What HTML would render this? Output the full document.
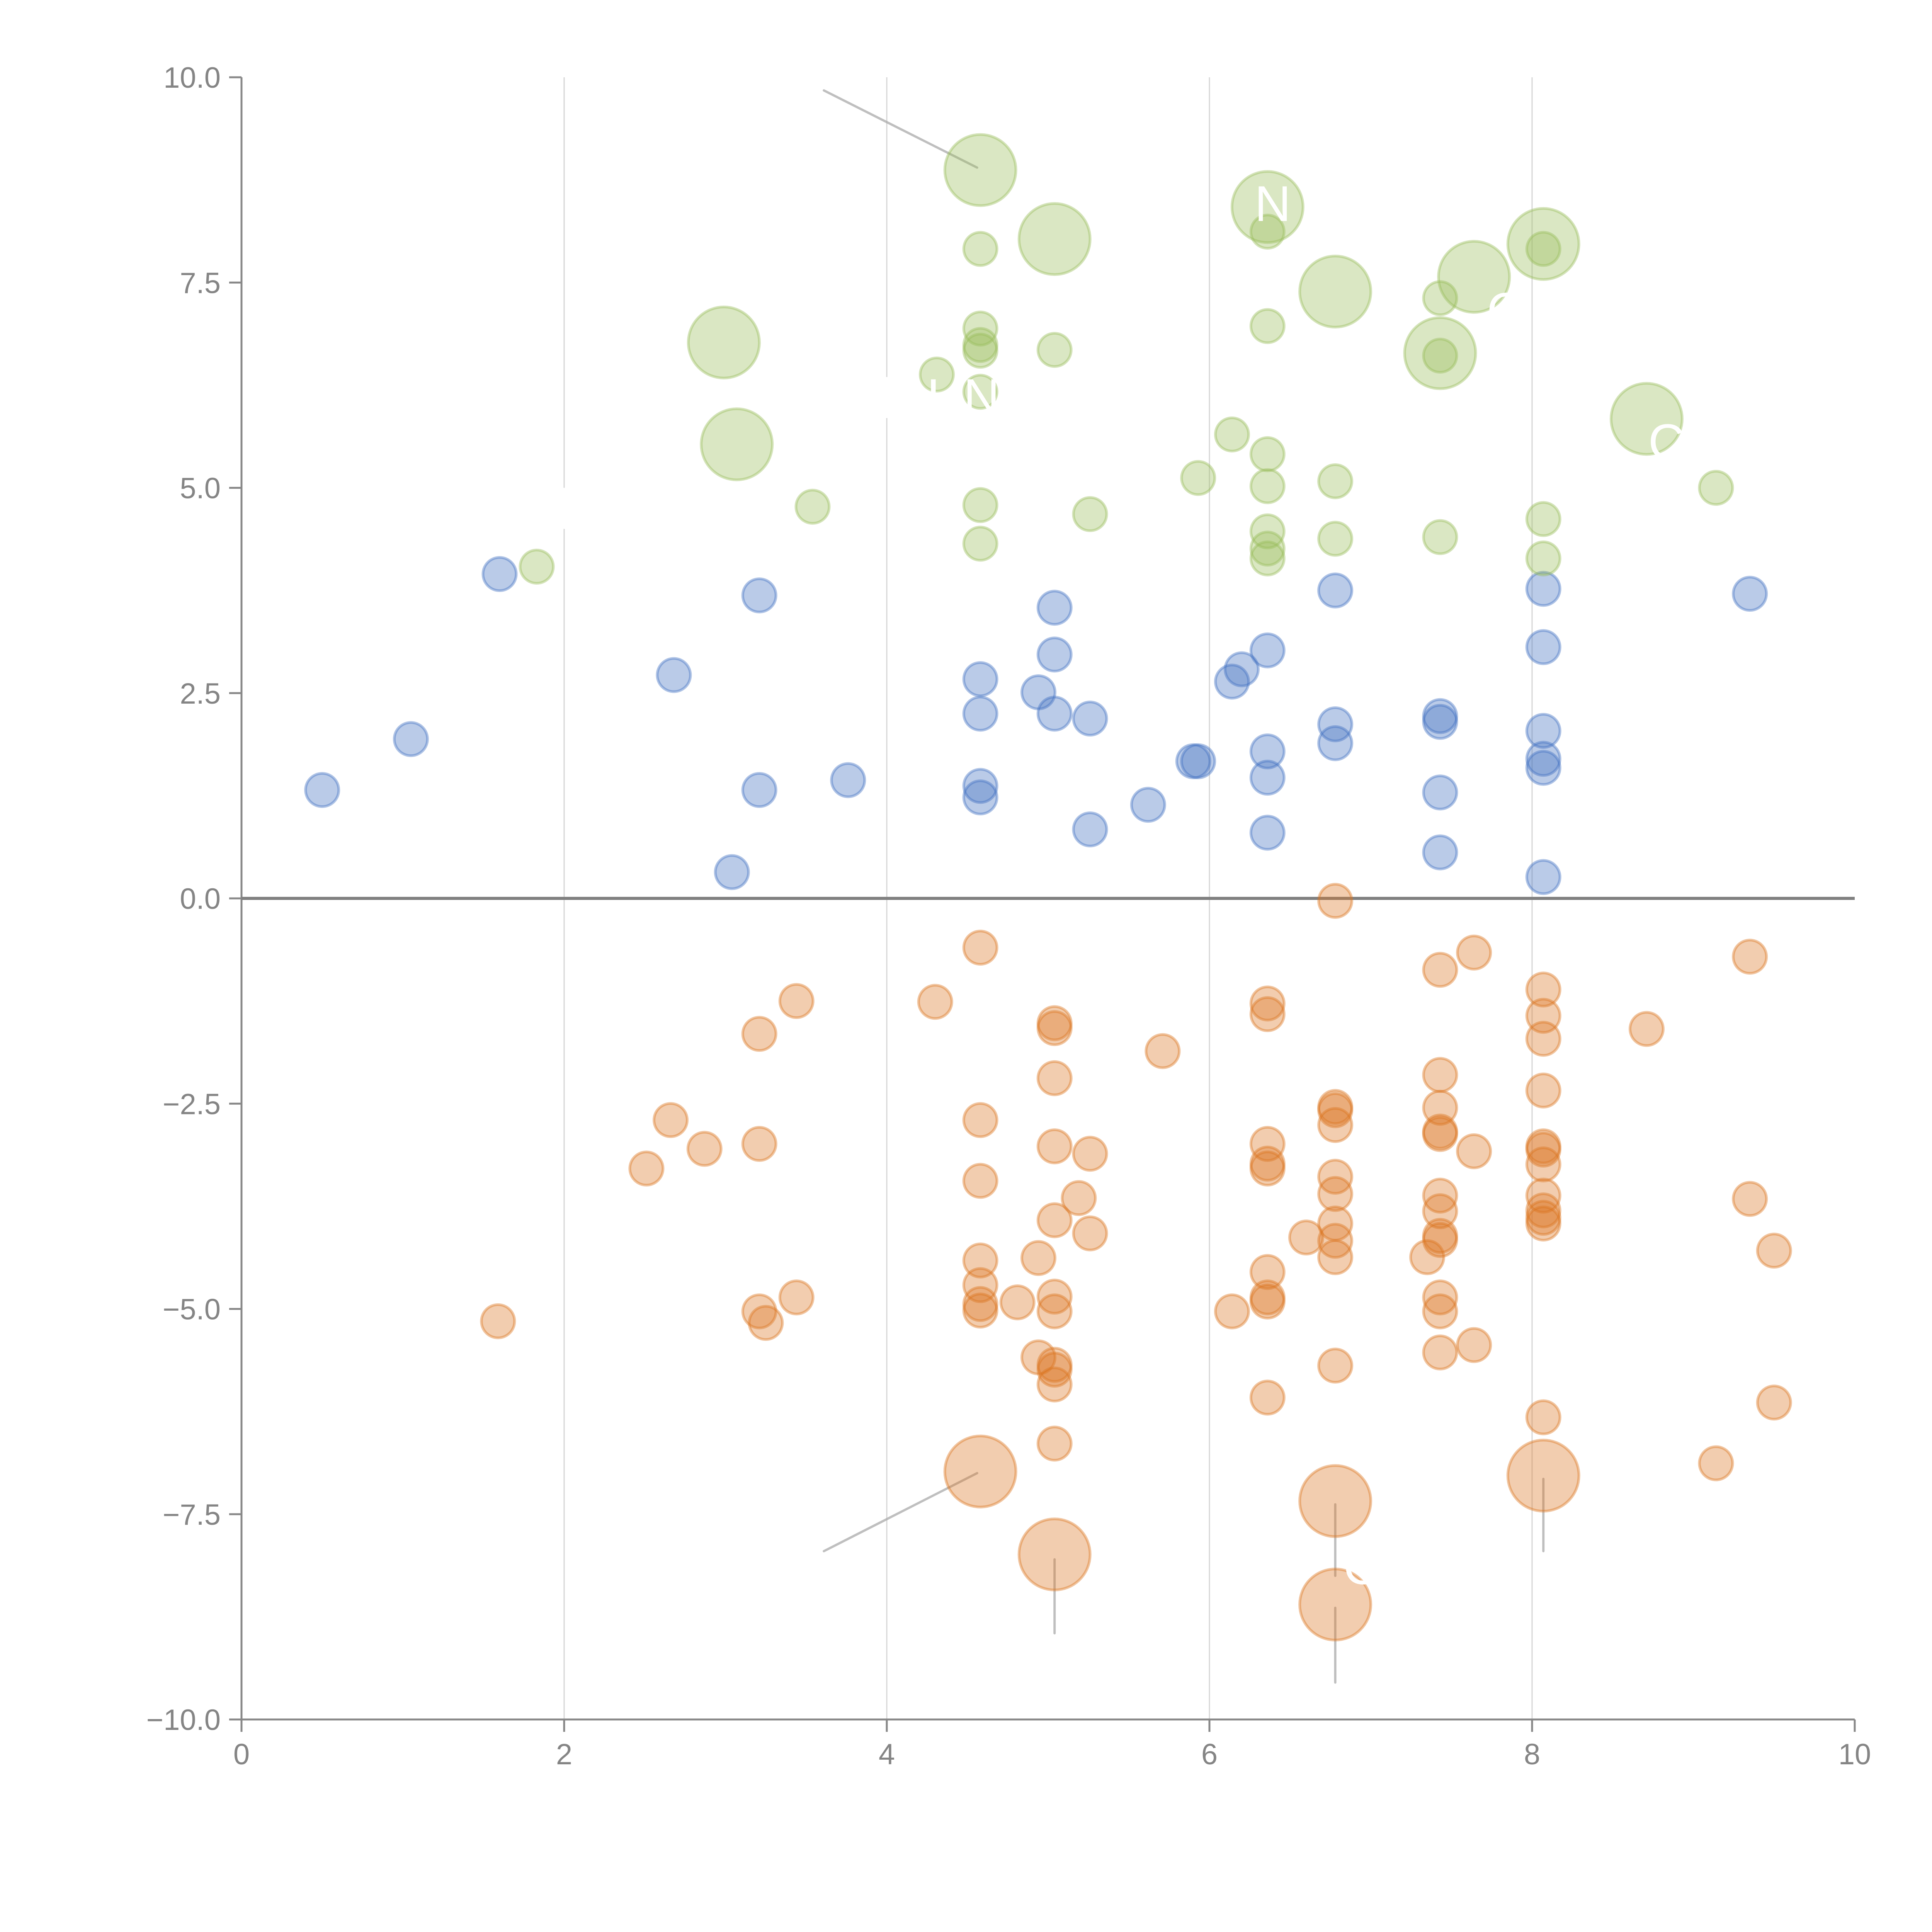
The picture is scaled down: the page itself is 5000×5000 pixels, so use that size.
<!DOCTYPE html>
<html><head><meta charset="utf-8"><style>
html,body{margin:0;padding:0;background:#fff;width:5000px;height:5000px;overflow:hidden}
svg{display:block}
text{font-family:"Liberation Sans",sans-serif}
</style></head><body>
<svg id="chart" width="5000" height="5000" viewBox="0 0 5000 5000" xmlns="http://www.w3.org/2000/svg">
<g id="grid"></g>
<g id="axes"></g>
<g id="leaders"></g>
<g id="marks"></g>
<g id="labels"></g>
</svg>
<script>
const xTicks=[0,2,4,6,8,10];
const yTicks=[-10,-7.5,-5,-2.5,0,2.5,5,7.5,10];
const yTickLabels=["\u221210.0","\u22127.5","\u22125.0","\u22122.5","0.0","2.5","5.0","7.5","10.0"];
const blueX=[0.50,1.05,1.60,2.68,3.04,3.21,3.21,3.76,4.58,4.58,4.58,4.58,4.94,5.04,5.04,5.04,5.26,5.26,5.62,5.90,5.93,6.14,6.20,6.36,6.36,6.36,6.36,6.78,6.78,6.78,7.43,7.43,7.43,7.43,8.07,8.07,8.07,8.07,8.07,8.07,9.35];
const blueY=[1.32,1.94,3.95,2.72,0.32,3.69,1.32,1.44,2.67,2.25,1.37,1.23,2.51,3.54,2.97,2.25,2.19,0.84,1.14,1.67,1.67,2.64,2.79,3.02,1.79,1.47,0.80,3.75,2.12,1.89,2.22,2.15,1.29,0.56,3.77,3.06,2.04,1.70,1.59,0.26,3.71];
const greenX=[1.83,3.54,4.31,4.58,4.58,4.58,4.58,4.58,4.58,4.58,5.04,5.26,5.93,6.14,6.36,6.36,6.36,6.36,6.36,6.36,6.36,6.78,6.78,7.43,7.43,7.43,8.07,8.07,8.07,9.14];
const greenY=[4.04,4.77,6.38,7.91,6.94,6.74,6.67,6.17,4.79,4.32,6.68,4.68,5.12,5.65,8.12,6.97,5.41,5.02,4.47,4.26,4.14,5.08,4.38,7.31,6.61,4.40,7.91,4.62,4.14,5.00];
const greenBigX=[4.58,5.04,2.99,3.07,6.36,6.78,7.64,7.43,8.07,8.71];
const greenBigY=[8.87,8.03,6.77,5.53,8.42,7.39,7.57,6.64,7.97,5.84];
const orangeX=[6.78,4.58,7.64,9.35,7.43,3.44,4.30,8.07,6.36,6.36,8.07,5.04,5.04,3.21,8.71,8.07,5.71,7.43,5.04,8.07,6.78,6.78,7.43,2.66,4.58,6.78,7.43,7.43,3.21,6.36,5.04,8.07,8.07,2.87,7.64,5.26,6.36,8.07,6.36,2.51,6.78,4.58,6.78,7.43,8.07,5.19,9.35,7.43,8.07,8.07,8.07,6.78,5.04,7.43,7.43,6.60,6.78,5.26,9.50,6.78,7.35,4.58,4.94,6.36,4.58,3.44,5.04,6.36,6.36,7.43,4.81,4.58,4.58,3.21,6.14,5.04,7.43,1.59,3.25,7.64,7.43,4.94,6.78,5.04,5.04,5.04,6.36,9.50,8.07,5.04,9.14];
const orangeY=[-0.03,-0.60,-0.66,-0.71,-0.87,-1.25,-1.26,-1.11,-1.28,-1.41,-1.43,-1.52,-1.58,-1.65,-1.59,-1.71,-1.86,-2.15,-2.19,-2.34,-2.54,-2.58,-2.55,-2.70,-2.70,-2.76,-2.84,-2.87,-2.99,-2.99,-3.02,-3.02,-3.06,-3.05,-3.08,-3.11,-3.23,-3.24,-3.29,-3.29,-3.39,-3.44,-3.60,-3.62,-3.62,-3.65,-3.66,-3.81,-3.80,-3.89,-3.96,-3.96,-3.92,-4.11,-4.16,-4.13,-4.17,-4.08,-4.29,-4.37,-4.37,-4.41,-4.38,-4.55,-4.71,-4.86,-4.85,-4.86,-4.91,-4.86,-4.92,-4.94,-5.02,-5.03,-5.03,-5.03,-5.03,-5.15,-5.17,-5.44,-5.53,-5.59,-5.69,-5.68,-5.74,-5.92,-6.08,-6.14,-6.32,-6.64,-6.88];
const orangeBigX=[4.58,8.07,6.78,5.04,6.78];
const orangeBigY=[-6.98,-7.03,-7.34,-7.99,-8.60];

const X0=625,X1=4800,Y0=4450,Y1=200;
function sx(v){return X0+(v-0)/(10-0)*(X1-X0);}
function sy(v){return Y0-(v+10)/20*(Y0-Y1);}
const NS="http://www.w3.org/2000/svg";
function mk(tag,attrs,parent){const e=document.createElementNS(NS,tag);for(const k in attrs)e.setAttribute(k,attrs[k]);parent.appendChild(e);return e;}
const grid=document.getElementById('grid'),axes=document.getElementById('axes'),marks=document.getElementById('marks'),leaders=document.getElementById('leaders'),labels=document.getElementById('labels');

xTicks.forEach(t=>{
  if(t>0&&t<10){const g=mk('line',{x1:sx(t),x2:sx(t),y1:Y1,y2:Y0,stroke:'#d6d6d6','stroke-width':3},grid);
  
  }
  const tk=mk('line',{x1:sx(t),x2:sx(t),y1:Y0,y2:Y0+32,stroke:'#888','stroke-width':5},axes);
  
  
  const lb=mk('text',{x:sx(t),y:Y0+116,'text-anchor':'middle','font-size':76,fill:'#858585'},axes);
  lb.textContent=String(t);
  
  
});
yTicks.forEach((t,i)=>{
  const tk=mk('line',{x1:X0-32,x2:X0,y1:sy(t),y2:sy(t),stroke:'#888','stroke-width':5},axes);
  
  
  const lb=mk('text',{x:X0-54,y:sy(t)+27,'text-anchor':'end','font-size':76,fill:'#858585'},axes);
  lb.textContent=yTickLabels[i];
  
  
});
const ya=mk('line',{x1:X0,x2:X0,y1:Y1,y2:Y0,stroke:'#888','stroke-width':5},axes);


const xa=mk('line',{x1:X0,x2:X1,y1:Y0,y2:Y0,stroke:'#888','stroke-width':5},axes);


const zl=mk('line',{x1:X0,x2:X1,y1:sy(0),y2:sy(0),stroke:'#808080','stroke-width':8},axes);



function series(xs,ys,r,col,name){
  xs.forEach((x,i)=>{
    const c=mk('circle',{cx:sx(x),cy:sy(ys[i]),r:r,fill:col,'fill-opacity':0.36,stroke:col,'stroke-opacity':0.42,'stroke-width':7},marks);
    
    
  });
}
series(blueX,blueY,43,'#4170c0','bubble-blue');
series(greenX,greenY,43,'#98bc5a','bubble-green');
series(greenBigX,greenBigY,92,'#98bc5a','bubble-green-large');
series(orangeX,orangeY,43,'#dc7520','bubble-orange');
series(orangeBigX,orangeBigY,92,'#dc7520','bubble-orange-large');

const L=[[3.61,9.84,4.56,8.90],[3.61,-7.95,4.56,-7.00],[5.04,-8.05,5.04,-8.95],[6.78,-7.38,6.78,-8.25],[6.78,-8.64,6.78,-9.55],[8.07,-7.07,8.07,-7.95]];
L.forEach(l=>{
  const e=mk('line',{x1:sx(l[0]),y1:sy(l[1]),x2:sx(l[2]),y2:sy(l[3]),stroke:'#aaa','stroke-opacity':0.75,'stroke-width':6,'stroke-linecap':'round'},leaders);
  
  
});
[[2,4.5,5.0],[4,5.85,6.35]].forEach(b=>{
  const r=mk('rect',{x:sx(b[0])-10,y:sy(b[2]),width:20,height:sy(b[1])-sy(b[2]),fill:'#fff'},grid);
  
  
});
const T=[[6.28,8.25,'N'],[4.25,5.9,'UNI'],[7.72,6.95,'C'],[8.72,5.35,'C'],[6.83,-8.35,'C']];
T.forEach(t=>{
  const e=mk('text',{x:sx(t[0]),y:sy(t[1]),'font-size':130,fill:'#fff'},labels);
  e.textContent=t[2];
  
  
});
</script>
</body></html>
